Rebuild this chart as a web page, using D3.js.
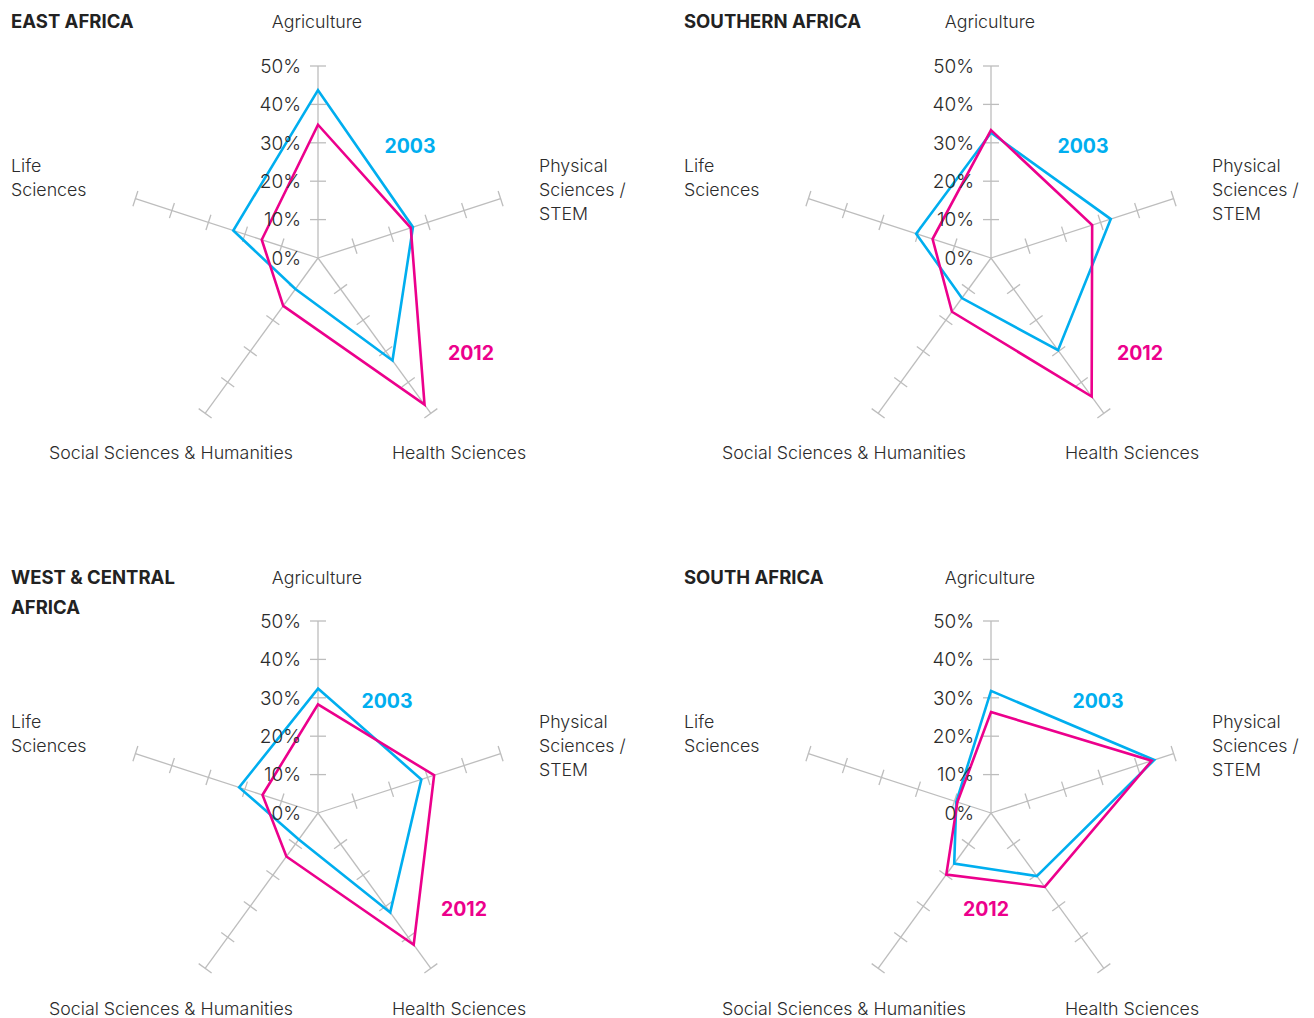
<!DOCTYPE html>
<html><head><meta charset="utf-8">
<script src="https://cdn.jsdelivr.net/npm/d3@7"></script>
<style>
body{margin:0;background:#fff;}
text{font-family:Inter,Roboto,"Noto Sans",sans-serif;fill:#2b2b2b;}
</style></head><body>
<svg id="c" width="1314" height="1018"></svg>
<script>
const axes = ["Agriculture","Physical Sciences / STEM","Health Sciences","Social Sciences & Humanities","Life Sciences"];
const ticks = [0,10,20,30,40,50];
const years = ["2003","2012"];
const regions = ["EAST AFRICA","SOUTHERN AFRICA","WEST & CENTRAL AFRICA","SOUTH AFRICA"];
const v2003 = [
  [43.7,26.0,33.0,10.0,23.2],
  [32.6,32.8,29.7,12.9,20.5],
  [32.4,28.3,32.0,8.5,21.6],
  [31.8,44.7,20.3,16.3,9.5]
];
const v2012 = [
  [34.7,25.4,47.2,15.4,15.4],
  [33.3,27.7,44.6,17.3,16.0],
  [28.3,31.8,42.4,14.0,15.2],
  [26.3,44.0,23.8,19.8,9.2]
];

const colors = {"2003":"#00aeef","2012":"#ec008c"};
const svg = d3.select("#c");
const R = 192;
const r = d3.scaleLinear().domain([0,50]).range([0,R]);
const ang = d3.scalePoint().domain(d3.range(5)).range([0, 2*Math.PI*4/5]);
const panels = [
  {cx:318, cy:258, ox:0, oy:0, title:["EAST AFRICA"], l03:[410,146], l12:[471,353]},
  {cx:991, cy:258, ox:673, oy:0, title:["SOUTHERN AFRICA"], l03:[1083,146], l12:[1140,353]},
  {cx:318, cy:813, ox:0, oy:556, title:["WEST & CENTRAL","AFRICA"], l03:[387,701], l12:[464,909]},
  {cx:991, cy:813, ox:673, oy:556, title:["SOUTH AFRICA"], l03:[1098,701], l12:[986,909]}
];

panels.forEach((p,pi)=>{
  const g = svg.append("g");
  p.title.forEach((t,i)=>{
    g.append("text").attr("x",p.ox+11).attr("y",p.oy+28+i*30)
      .attr("font-size",18.5).attr("font-weight",700).style("fill","#222").text(t);
  });
  const c = g.append("g").attr("transform",`translate(${p.cx},${p.cy})`);
  axes.forEach((a,i)=>{
    const th = ang(i);
    const dx = Math.sin(th), dy = -Math.cos(th);
    c.append("line").attr("x1",0).attr("y1",0).attr("x2",dx*r(50)).attr("y2",dy*r(50))
      .attr("stroke","#bdbdbd").attr("stroke-width",1.3);
    ticks.slice(1).forEach(t=>{
      const px = dx*r(t), py = dy*r(t);
      const hl = 8;
      c.append("line").attr("x1",px - dy*hl).attr("y1",py + dx*hl)
        .attr("x2",px + dy*hl).attr("y2",py - dx*hl)
        .attr("stroke","#bdbdbd").attr("stroke-width",1.3);
    });
  });
  const line = d3.lineRadial().angle((d,i)=>ang(i)).radius(d=>r(d)).curve(d3.curveLinearClosed);
  [["2003",v2003[pi]],["2012",v2012[pi]]].forEach(([y,vals])=>{
    c.append("path").attr("d",line(vals)).attr("fill","none")
      .attr("stroke",colors[y]).attr("stroke-width",2.6).attr("stroke-linejoin","miter");
  });
  ticks.forEach(t=>{
    c.append("text").attr("x",-17).attr("y",-r(t)).attr("dy","0.36em")
      .attr("text-anchor","end").attr("font-size",19).attr("font-weight",300).text(t+"%");
  });
  const fs = 17.8;
  const lab = (x,y,t,anchor)=>g.append("text").attr("x",x).attr("y",y).attr("text-anchor",anchor||"start")
      .attr("font-size",fs).attr("font-weight",300).text(t);
  lab(p.ox+317, p.oy+28, axes[0], "middle");
  ["Physical","Sciences /","STEM"].forEach((t,i)=>lab(p.ox+539, p.oy+172+i*24, t));
  ["Life","Sciences"].forEach((t,i)=>lab(p.ox+11, p.oy+172+i*24, t));
  lab(p.ox+171, p.oy+459, axes[3], "middle");
  lab(p.ox+459, p.oy+459, axes[2], "middle");
  g.append("text").attr("x",p.l03[0]).attr("y",p.l03[1]).attr("dy","0.36em").attr("text-anchor","middle")
    .attr("font-size",19.5).attr("font-weight",700).style("fill",colors["2003"]).text(years[0]);
  g.append("text").attr("x",p.l12[0]).attr("y",p.l12[1]).attr("dy","0.36em").attr("text-anchor","middle")
    .attr("font-size",19.5).attr("font-weight",700).style("fill",colors["2012"]).text(years[1]);
});
</script></body></html>
